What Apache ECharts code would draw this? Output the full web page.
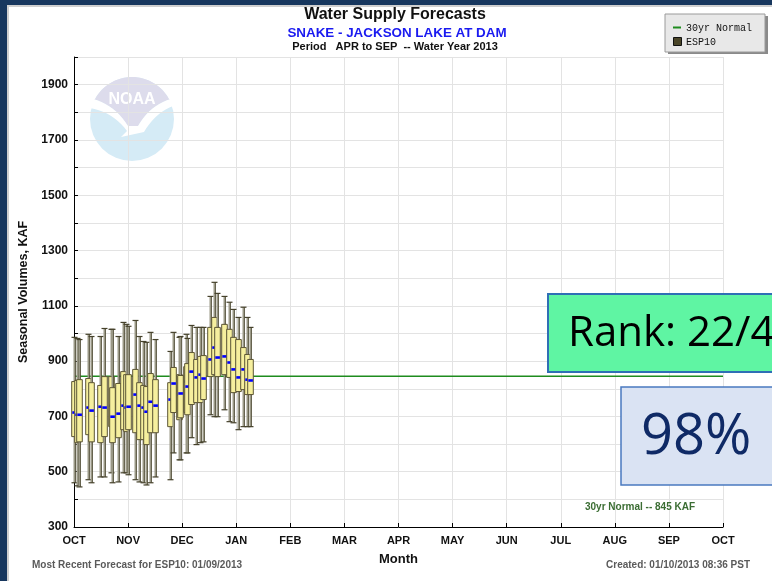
<!DOCTYPE html>
<html>
<head>
<meta charset="utf-8">
<script src="https://cdn.jsdelivr.net/npm/echarts@6/dist/echarts.min.js"></script>
<style>
  html, body { margin: 0; padding: 0; background: #17375e; }
  #chart { width: 772px; height: 581px; }
</style>
</head>
<body>
<div id="chart"></div>
<script>
// ESP10 seasonal volume forecasts (KAF), one box per forecast date
const forecastDates = [
  '2012-10-01', '2012-10-03', '2012-10-04', '2012-10-09', '2012-10-11', '2012-10-16',
  '2012-10-18', '2012-10-22', '2012-10-23', '2012-10-26', '2012-10-29', '2012-10-31',
  '2012-11-01', '2012-11-05', '2012-11-07', '2012-11-09', '2012-11-11', '2012-11-13',
  '2012-11-16', '2012-11-24', '2012-11-26', '2012-11-29', '2012-11-30', '2012-12-03',
  '2012-12-04', '2012-12-06', '2012-12-09', '2012-12-11', '2012-12-13', '2012-12-17',
  '2012-12-19', '2012-12-21', '2012-12-25', '2012-12-28', '2012-12-30', '2013-01-02',
  '2013-01-05', '2013-01-07', '2013-01-09'
];
const whiskerLow = [
  460, 449, 445, 471, 460, 481, 481, 496, 460, 463, 496, 496,
  489, 471, 463, 460, 452, 460, 481, 471, 568, 543, 543, 568,
  568, 623, 598, 605, 608, 706, 699, 699, 724, 681, 677, 652,
  663, 663, 663
];
const quartile1 = [
  627, 605, 608, 634, 608, 605, 627, 663, 605, 623, 652, 645,
  652, 641, 616, 616, 598, 641, 641, 663, 714, 688, 695, 714,
  706, 743, 750, 750, 761, 844, 851, 844, 851, 841, 786, 790,
  797, 779, 779
];
const medianVol = [
  714, 706, 706, 732, 721, 735, 732, 739, 699, 710, 739, 732,
  735, 779, 739, 732, 717, 753, 739, 761, 819, 779, 783, 826,
  808, 862, 841, 851, 837, 906, 949, 913, 917, 895, 870, 841,
  870, 833, 830
];
const quartile3 = [
  826, 830, 833, 837, 822, 812, 844, 844, 804, 819, 862, 851,
  851, 870, 822, 812, 808, 855, 833, 822, 877, 851, 848, 880,
  891, 931, 906, 917, 920, 1022, 1058, 1022, 1033, 1015, 986, 978,
  949, 924, 906
];
const whiskerHigh = [
  986, 982, 978, 997, 989, 989, 1018, 1015, 1015, 989, 1040, 1033,
  1026, 1047, 989, 971, 968, 1004, 978, 935, 1004, 986, 989, 997,
  982, 1029, 1022, 1022, 1022, 1134, 1185, 1145, 1134, 1113, 1087, 1058,
  1095, 1058, 1022
];
const normalKaf = 845;
const monthLabels = ['OCT', 'NOV', 'DEC', 'JAN', 'FEB', 'MAR', 'APR', 'MAY', 'JUN', 'JUL', 'AUG', 'SEP', 'OCT'];

// position of a date on the water-year month axis (0 = Oct 1)
function monthPosition(dateStr) {
  const [y, m, d] = dateStr.split('-').map(Number);
  const idx = (m - 10 + 12) % 12;
  const daysInMonth = new Date(y, m, 0).getDate();
  return idx + (d - 1) / daysInMonth;
}

const boxRows = forecastDates.map((d, i) => [
  monthPosition(d), whiskerLow[i], quartile1[i], medianVol[i], quartile3[i], whiskerHigh[i]
]);

const FONT = "'Liberation Sans', Arial, sans-serif";

function renderBox(params, api) {
  const x = api.value(0);
  const pLow = api.coord([x, api.value(1)]);
  const pQ1 = api.coord([x, api.value(2)]);
  const pMed = api.coord([x, api.value(3)]);
  const pQ3 = api.coord([x, api.value(4)]);
  const pHigh = api.coord([x, api.value(5)]);
  const cx = Math.round(pLow[0]) + 0.5;
  const half = 2.8;
  return {
    type: 'group',
    children: [
      { type: 'line', shape: { x1: cx, y1: pHigh[1], x2: cx, y2: pLow[1] },
        style: { stroke: '#9a9886', lineWidth: 2 } },
      { type: 'line', shape: { x1: cx + 1, y1: pHigh[1], x2: cx + 1, y2: pLow[1] },
        style: { stroke: '#4d4932', lineWidth: 0.8 } },
      { type: 'line', shape: { x1: cx - 3, y1: pHigh[1], x2: cx + 3, y2: pHigh[1] },
        style: { stroke: '#45412b', lineWidth: 1.2 } },
      { type: 'line', shape: { x1: cx - 3, y1: pLow[1], x2: cx + 3, y2: pLow[1] },
        style: { stroke: '#45412b', lineWidth: 1.2 } },
      { type: 'rect', shape: { x: cx - half, y: pQ3[1], width: half * 2, height: pQ1[1] - pQ3[1] },
        style: { fill: '#f6ef9e', stroke: '#5c5535', lineWidth: 1 } },
      { type: 'rect', shape: { x: cx - 2.2, y: pMed[1] - 1.3, width: 4.6, height: 2.6 },
        style: { fill: '#0000ff' } }
    ]
  };
}

// emblem outline helpers: sampled circle arcs and quadratic curves
function arcPts(cx, cy, r, a0, a1, n) {
  const pts = [];
  for (let i = 0; i <= n; i++) {
    const a = a0 + (a1 - a0) * i / n;
    pts.push([cx + r * Math.cos(a), cy + r * Math.sin(a)]);
  }
  return pts;
}
function quadPts(p0, p1, p2, n) {
  const pts = [];
  for (let i = 0; i <= n; i++) {
    const t = i / n, u = 1 - t;
    pts.push([u * u * p0[0] + 2 * u * t * p1[0] + t * t * p2[0],
              u * u * p0[1] + 2 * u * t * p1[1] + t * t * p2[1]]);
  }
  return pts;
}
const EC = [132, 119], ER = 42;
function angleAtY(y, right) {
  const s = Math.asin((y - EC[1]) / ER);
  return right ? s : Math.PI - s;
}
// upper (lavender) part bounded below by a dipping curve
const upperPts = [].concat(
  arcPts(EC[0], EC[1], ER, angleAtY(99, false), 2 * Math.PI + angleAtY(99, true), 30),
  quadPts([171, 99], [150, 105], [138, 126], 10),
  quadPts([128, 126], [115, 105], [93, 99], 10)
);
// white swoosh below the upper part
const swooshPts = [].concat(
  quadPts([93, 99], [115, 105], [128, 126], 10),
  quadPts([138, 126], [150, 105], [171, 99], 10),
  [[173, 106]],
  quadPts([173, 106], [155, 113], [144, 132], 10),
  [[121, 137]],
  [[127, 131]],
  quadPts([127, 131], [113, 112], [90, 108], 10)
);

const chart = echarts.init(document.getElementById('chart'), null, { renderer: 'canvas' });

const option = {
  backgroundColor: '#17375e',
  animation: false,
  grid: { left: 74, right: 49, top: 57, bottom: 54 },
  xAxis: {
    type: 'value', min: 0, max: 12, interval: 1,
    name: 'Month', nameLocation: 'middle', nameGap: 26,
    nameTextStyle: { color: '#111', fontFamily: FONT, fontWeight: 'bold', fontSize: 13 },
    axisLine: { show: true, onZero: false, lineStyle: { color: '#000', width: 1 } },
    axisTick: { show: true, inside: true, length: 4, lineStyle: { color: '#000' } },
    axisLabel: {
      color: '#111', fontFamily: FONT, fontWeight: 'bold', fontSize: 11, margin: 8,
      formatter: v => monthLabels[Math.round(v)] || ''
    },
    splitLine: { show: true, lineStyle: { color: '#e3e3e3', width: 1 } }
  },
  yAxis: {
    type: 'value', min: 300, max: 2000, interval: 100,
    name: 'Seasonal Volumes, KAF', nameLocation: 'middle', nameGap: 40, nameRotate: 90,
    nameTextStyle: { color: '#111', fontFamily: FONT, fontWeight: 'bold', fontSize: 12.5 },
    axisLine: { show: true, lineStyle: { color: '#000', width: 1 } },
    axisTick: { show: true, inside: true, length: 4, lineStyle: { color: '#000' } },
    axisLabel: {
      color: '#111', fontFamily: FONT, fontWeight: 'bold', fontSize: 12, margin: 6,
      formatter: v => ((v - 300) % 200 === 0 && v < 2000) ? String(v) : ''
    },
    splitLine: { show: true, lineStyle: { color: '#e3e3e3', width: 1 } }
  },
  series: [
    {
      name: '30yr Normal', type: 'line', symbol: 'none', silent: true, z: 3,
      data: [[0, normalKaf], [12, normalKaf]],
      lineStyle: { color: '#1e8c1e', width: 1.5 }
    },
    {
      name: 'ESP10', type: 'custom', z: 4,
      renderItem: renderBox,
      encode: { x: 0, y: [1, 2, 3, 4, 5] },
      data: boxRows
    }
  ],
  graphic: [
    // page panel
    { type: 'rect', z: -100, shape: { x: 8, y: 6, width: 770, height: 580 },
      style: { fill: '#ffffff', stroke: '#cfcfcf', lineWidth: 2 } },
    // agency emblem watermark
    { type: 'circle', z: -50, shape: { cx: EC[0], cy: EC[1], r: ER }, style: { fill: '#d5ebf6' } },
    { type: 'polygon', z: -49, shape: { points: upperPts }, style: { fill: '#dddcec' } },
    { type: 'polygon', z: -48, shape: { points: swooshPts }, style: { fill: '#ffffff' } },
    { type: 'text', z: -47, style: { x: 132, y: 100, text: 'NOAA', fill: '#ffffff', align: 'center', verticalAlign: 'middle',
      font: "bold 16px 'Liberation Sans Narrow', 'Liberation Sans', sans-serif" } },
    // titles
    { type: 'text', z: 10, style: { x: 395, y: 15, text: 'Water Supply Forecasts', fill: '#111', align: 'center', verticalAlign: 'middle',
      font: 'bold 16px ' + FONT } },
    { type: 'text', z: 10, style: { x: 397, y: 33, text: 'SNAKE - JACKSON LAKE AT DAM', fill: '#1a1af0', align: 'center', verticalAlign: 'middle',
      font: 'bold 13.4px ' + FONT } },
    { type: 'text', z: 10, style: { x: 395, y: 47, text: 'Period   APR to SEP  -- Water Year 2013', fill: '#111', align: 'center', verticalAlign: 'middle',
      font: 'bold 11px ' + FONT } },
    // normal annotation
    { type: 'text', z: 10, style: { x: 640, y: 507, text: '30yr Normal -- 845 KAF', fill: '#3b6d33', align: 'center', verticalAlign: 'middle',
      font: 'bold 10px ' + FONT } },
    // footers
    { type: 'text', z: 10, style: { x: 32, y: 565, text: 'Most Recent Forecast for ESP10: 01/09/2013', fill: '#5a5a5a', align: 'left', verticalAlign: 'middle',
      font: 'bold 10px ' + FONT } },
    { type: 'text', z: 10, style: { x: 750, y: 565, text: 'Created: 01/10/2013 08:36 PST', fill: '#5a5a5a', align: 'right', verticalAlign: 'middle',
      font: 'bold 10px ' + FONT } },
    // legend box
    { type: 'rect', z: 20, shape: { x: 668, y: 16, width: 100, height: 38 }, style: { fill: '#8a8a8a' } },
    { type: 'rect', z: 21, shape: { x: 665, y: 14, width: 100, height: 38 }, style: { fill: '#e8e8e8', stroke: '#9a9a9a', lineWidth: 1 } },
    { type: 'line', z: 22, shape: { x1: 673, y1: 27.5, x2: 681, y2: 27.5 }, style: { stroke: '#1e8c1e', lineWidth: 2 } },
    { type: 'text', z: 22, style: { x: 686, y: 28, text: '30yr Normal', fill: '#111', verticalAlign: 'middle',
      font: "10px 'Liberation Mono', 'DejaVu Sans Mono', monospace" } },
    { type: 'rect', z: 22, shape: { x: 673.5, y: 37.5, width: 8, height: 8 }, style: { fill: '#4a4528', stroke: '#111', lineWidth: 1 } },
    { type: 'text', z: 22, style: { x: 686, y: 42, text: 'ESP10', fill: '#111', verticalAlign: 'middle',
      font: "10px 'Liberation Mono', 'DejaVu Sans Mono', monospace" } },
    // rank callout
    { type: 'rect', z: 30, shape: { x: 548, y: 294, width: 240, height: 78 }, style: { fill: '#5ff5a3', stroke: '#2f6fb5', lineWidth: 2 } },
    { type: 'text', z: 31, style: { x: 568, y: 334, text: 'Rank: 22/40', fill: '#000', verticalAlign: 'middle',
      font: "42px 'Open Sans', 'Liberation Sans', sans-serif" } },
    // percent-of-normal callout
    { type: 'rect', z: 30, shape: { x: 621, y: 387, width: 170, height: 98 }, style: { fill: '#dae3f3', stroke: '#4a7ac0', lineWidth: 1.5 } },
    { type: 'text', z: 31, style: { x: 641, y: 438, text: '98%', fill: '#0f2a66', verticalAlign: 'middle',
      font: "56px 'Open Sans', 'Liberation Sans', sans-serif" } }
  ]
};

chart.setOption(option);
</script>
</body>
</html>
